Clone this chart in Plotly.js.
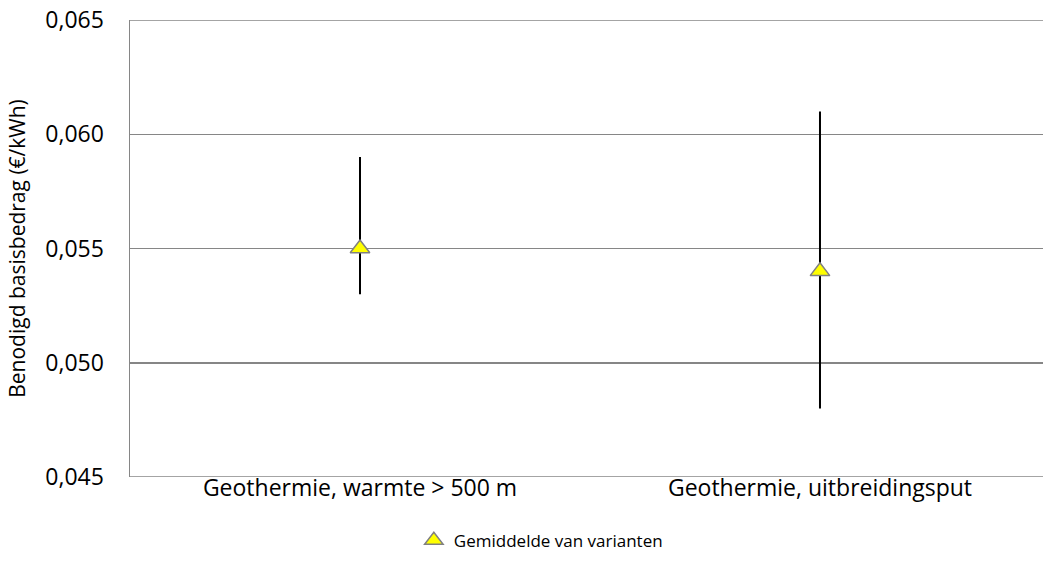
<!DOCTYPE html>
<html>
<head>
<meta charset="utf-8">
<script src="https://cdn.plot.ly/plotly-3.0.1.min.js"></script>
<style>html,body{margin:0;padding:0;overflow:hidden;background:#fff}</style>
</head>
<body>
<div id="chart" style="width:1043px;height:578px"></div>
<script>
const categories = ["Geothermie, warmte > 500 m", "Geothermie, uitbreidingsput"];
const meanValues = [0.055, 0.054];
const maxValues = [0.059, 0.061];
const minValues = [0.053, 0.048];
const seriesName = "Gemiddelde van varianten";
const yTicks = [0.045, 0.050, 0.055, 0.060, 0.065];

const font = "'Open Sans', sans-serif";

const trace = {
  type: "scatter",
  mode: "markers",
  x: categories,
  y: meanValues,
  name: seriesName,
  marker: {symbol: "triangle-up", size: 17, color: "#ffff00", line: {color: "#808080", width: 1.5}},
  error_y: {
    type: "data",
    symmetric: false,
    array: maxValues.map((v, i) => v - meanValues[i]),
    arrayminus: meanValues.map((v, i) => v - minValues[i]),
    color: "#000000",
    thickness: 2,
    width: 0
  },
  showlegend: true
};

const layout = {
  width: 1043,
  height: 578,
  margin: {l: 130, r: 0, t: 20, b: 101, autoexpand: false},
  paper_bgcolor: "#ffffff",
  plot_bgcolor: "#ffffff",
  font: {family: font, size: 18, color: "#000000"},
  separators: ",.",
  xaxis: {
    type: "category",
    range: [-0.5, 1.4848],
    showgrid: false,
    zeroline: false,
    showline: false,
    ticks: "",
    tickfont: {size: 23},
    ticklabelstandoff: -5,
    automargin: false,
    fixedrange: true
  },
  yaxis: {
    range: [0.045, 0.065],
    tickvals: yTicks,
    tickformat: ".3f",
    showgrid: true,
    gridcolor: "#868686",
    gridwidth: 1.5,
    showline: true,
    linecolor: "#868686",
    linewidth: 1.5,
    zeroline: false,
    ticks: "",
    ticklabelstandoff: 20,
    tickfont: {size: 23},
    automargin: false,
    title: {text: "Benodigd basisbedrag (€/kWh)", font: {size: 21}, standoff: 14}
  },
  shapes: [
    {type: "line", xref: "paper", yref: "y", x0: 0, x1: 1, y0: 0.045, y1: 0.045, line: {color: "#868686", width: 1.5}},
    {type: "line", xref: "paper", yref: "y", x0: 0, x1: 1, y0: 0.065, y1: 0.065, line: {color: "#868686", width: 1.5}}
  ],
  legend: {
    orientation: "h",
    x: 0.45, xanchor: "center",
    y: -0.1, yanchor: "top",
    font: {size: 17},
    itemwidth: 30
  }
};

Plotly.newPlot("chart", [trace], layout, {displayModeBar: false, staticPlot: true});
</script>
</body>
</html>
